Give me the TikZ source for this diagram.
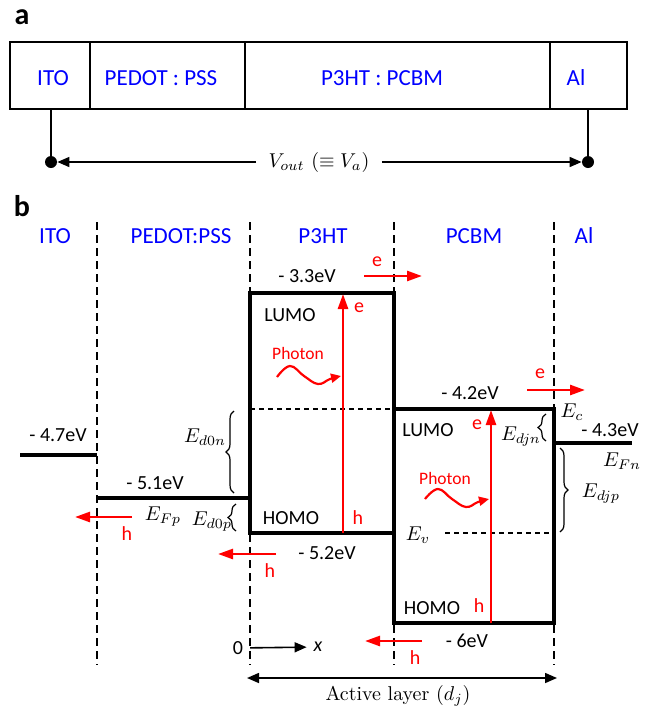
\documentclass[tikz,border=0pt]{standalone}
\usepackage{fontspec}
\setsansfont{Carlito}
\usetikzlibrary{arrows.meta,decorations.pathreplacing}

\begin{document}
\begin{tikzpicture}[x=0.5pt,y=-0.5pt,
  tag/.style={font=\sffamily\bfseries\fontsize{15}{17}\selectfont},
  layer/.style={text=blue,font=\sffamily\fontsize{11.5}{13}\selectfont},
  ev/.style={font=\sffamily\fontsize{10}{12}\selectfont},
  carrier/.style={text=red,font=\sffamily\fontsize{10}{12}\selectfont},
  phlab/.style={text=red,font=\sffamily\fontsize{8.75}{10}\selectfont},
  sym/.style={font=\fontsize{10}{12}\selectfont},
  level/.style={line width=2pt},
  divider/.style={dash pattern=on 4pt off 2.5pt,line width=0.75pt},
  fine/.style={dash pattern=on 2.5pt off 2pt,line width=0.6pt},
  flow/.style={red,line width=1.3pt,-{Triangle[length=7.5pt,width=5pt]}},
  photon/.style={red,line width=1.1pt,-{Triangle[length=5pt,width=4.5pt]}},
  blk/.style={line width=0.8pt,-{Triangle[length=6pt,width=5pt]}},
  curly/.style={decorate,decoration={brace,amplitude=4pt},line width=0.6pt},
  dot/.style={circle,fill,inner sep=0pt,minimum size=6pt}
]
\useasboundingbox (0,0) rectangle (651,707);

% a
\node[tag] (taga) at (22,17) {a};
\draw[line width=1pt] (10,42) rectangle (627,109);
\foreach \x in {90,245,550} \draw[line width=1pt] (\x,42) -- (\x,109);
\node[layer] (cito) at (53,78) {ITO};
\node[layer] (cpedot) at (161,78) {PEDOT : PSS};
\node[layer] (cactive) at (382,78) {P3HT : PCBM};
\node[layer] (cal) at (576,78) {Al};
\node[dot] (pl) at (51,162) {};
\node[dot] (pr) at (588,162) {};
\draw[line width=0.8pt] (51,109) -- (pl);
\draw[line width=0.8pt] (588,109) -- (pr);
\node[sym,inner sep=6pt] (vout) at (319,162) {$V_{out}\ (\equiv V_a)$};
\draw[blk] (vout) -- (pl);
\draw[blk] (vout) -- (pr);

% b
\node[tag] (tagb) at (22,206) {b};
\node[layer] (hito) at (55,236) {ITO};
\node[layer] (hpedot) at (181,236) {PEDOT:PSS};
\node[layer] (hp3ht) at (323,236) {P3HT};
\node[layer] (hpcbm) at (474,236) {PCBM};
\node[layer] (hal) at (584,236) {Al};
\foreach \x in {97,250,394,554} \draw[divider] (\x,222) -- (\x,665);

\draw[level] (20,455) -- (97,455);
\draw[level] (97,498) -- (250,498);
\draw[level] (554,443) -- (632,443);
\draw[level] (250,293) rectangle (394,533);
\draw[level] (394,409) rectangle (554,623);
\draw[fine] (250,409) -- (394,409);
\draw[fine] (445,533) -- (554,533);

\node[ev] (e47) at (58,435) {- 4.7eV};
\node[ev] (e51) at (155,483) {- 5.1eV};
\node[ev] (e33) at (307,276) {- 3.3eV};
\node[ev] (e52) at (327,553) {- 5.2eV};
\node[ev] (e42) at (470,393) {- 4.2eV};
\node[ev] (e6) at (467,641) {- 6eV};
\node[ev] (e43) at (610,430) {- 4.3eV};
\node[ev] (lumo1) at (290,315) {LUMO};
\node[ev] (homo1) at (291,518) {HOMO};
\node[ev] (lumo2) at (428,430) {LUMO};
\node[ev] (homo2) at (432,608) {HOMO};

% absorption in P3HT and PCBM
\draw[flow] (343,533) -- (343,294);
\draw[flow] (491,623) -- (491,410);
\node[phlab] (ph1) at (298,353) {Photon};
\node[phlab] (ph2) at (445,478) {Photon};
\draw[photon] plot[smooth,tension=0.7] coordinates {(277,377) (290,366) (304,376) (318,384) (330,379) (341,376)};
\draw[photon] plot[smooth,tension=0.7] coordinates {(425,499) (438,489) (452,499) (466,507) (478,502) (489,499)};
\node[carrier] (eup1) at (359,308) {e};
\node[carrier] (hup1) at (358,518) {h};
\node[carrier] (eup2) at (477,425) {e};
\node[carrier] (hup2) at (479,606) {h};

% carriers leaving
\draw[flow] (364,276) -- (422,276);
\node[carrier] (eout1) at (377,262) {e};
\draw[flow] (527,390) -- (585,390);
\node[carrier] (eout2) at (540,374) {e};
\draw[flow] (132,517) -- (75,517);
\node[carrier] (hout1) at (127,534) {h};
\draw[flow] (276,554) -- (218,554);
\node[carrier] (hout2) at (270,571) {h};
\draw[flow] (422,641) -- (365,641);
\node[carrier] (hout3) at (415,658) {h};

% offsets
\draw[curly] (234,493) -- (234,411);
\draw[curly] (236,531) -- (236,504);
\draw[curly] (546,441) -- (546,414);
\draw[curly] (560,448) -- (560,532);
\node[sym] (ed0n) at (205,437) {$E_{d0n}$};
\node[sym] (ed0p) at (212,522) {$E_{d0p}$};
\node[sym] (efp) at (163,517) {$E_{Fp}$};
\node[sym] (edjn) at (521,437) {$E_{djn}$};
\node[sym] (ec) at (572,412) {$E_c$};
\node[sym] (efn) at (622,461) {$E_{Fn}$};
\node[sym] (edjp) at (601,494) {$E_{djp}$};
\node[sym] (evb) at (418,535) {$E_v$};

% axis and active layer
\node[ev] (zero) at (238,648) {0};
\node[ev] (xax) at (318,647) {\itshape x};
\draw[blk] (zero) -- (xax);
\coordinate (al0) at (247,678);
\coordinate (al1) at (557,678);
\draw[blk,{Triangle[length=6pt,width=5pt]}-{Triangle[length=6pt,width=5pt]}] (al0) -- (al1);
\node[sym] (actl) at (398,696) {Active layer ($d_j$)};
\end{tikzpicture}
\end{document}
